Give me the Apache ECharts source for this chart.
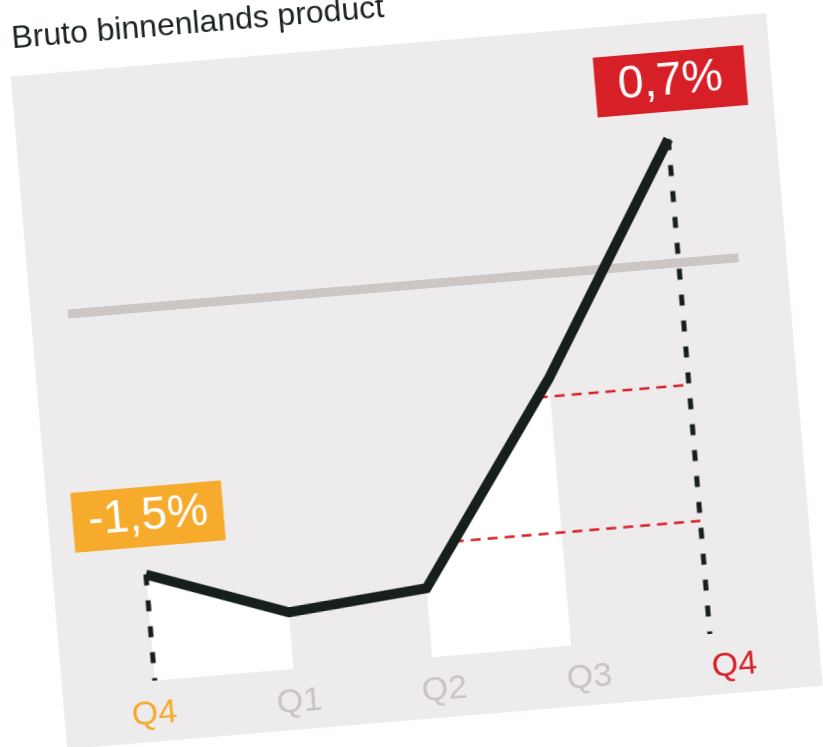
<!DOCTYPE html>
<html>
<head>
<meta charset="utf-8">
<script src="https://cdn.jsdelivr.net/npm/echarts@6/dist/echarts.min.js"></script>
<style>
  html, body { margin: 0; padding: 0; width: 823px; height: 747px; overflow: hidden; background: #fff; }
  #chart {
    position: absolute; left: -50px; top: -50px; width: 923px; height: 847px;
    transform: rotate(-4.8deg); transform-origin: 461.5px 423.5px;
  }
</style>
</head>
<body>
<div id="chart"></div>
<script>
// data
const quarters = ['Q4', 'Q1', 'Q2', 'Q3', 'Q4'];
const quarterColors = ['#f5aa2c', '#c9c4c2', '#c9c4c2', '#c9c4c2', '#d71f27'];
const bbp = [-1.5, -1.78, -1.71, -0.59, 0.7];
const whiteSegments = [[0, 1], [2, 3]];
const redLevels = [-1.46, -0.69];
const dropIdx = [0, 4];
const tagIdx = [0, 4];
const tagColors = ['#f6ab2d', '#d71f27'];

const yMin = -2.1, yMax = 0.9;
const font = 'Liberation Sans, Arial, sans-serif';
const dark = '#161f19';

// x where the line first reaches a level (between two points)
function crossX(level) {
  for (let i = 0; i < bbp.length - 1; i++) {
    const a = bbp[i], b = bbp[i + 1];
    if ((a - level) * (b - level) <= 0 && a !== b) {
      return i + (level - a) / (b - a);
    }
  }
  return 0;
}

const fmt = v => v.toFixed(1).replace('.', ',') + '%';

const chart = echarts.init(document.getElementById('chart'));

const series = [];

whiteSegments.forEach(s => {
  series.push({
    type: 'line', xAxisIndex: 0, yAxisIndex: 0, silent: true, z: 2,
    symbol: 'none',
    data: [[s[0], bbp[s[0]]], [s[1], bbp[s[1]]]],
    lineStyle: { width: 0 },
    areaStyle: { color: '#ffffff', opacity: 1, origin: 'start' }
  });
});

redLevels.forEach(l => {
  series.push({
    type: 'line', xAxisIndex: 0, yAxisIndex: 0, silent: true, z: 3,
    symbol: 'none',
    data: [[crossX(l), l], [bbp.length - 1, l]],
    lineStyle: { color: '#d71f27', width: 2.5, type: [10, 7] }
  });
});

dropIdx.forEach(i => {
  series.push({
    type: 'line', xAxisIndex: 0, yAxisIndex: 0, silent: true, z: 4,
    symbol: 'none',
    data: [[i, bbp[i]], [i, yMin]],
    lineStyle: { color: dark, width: 5, type: [11, 15] }
  });
});

series.push({
  type: 'line', xAxisIndex: 0, yAxisIndex: 0, silent: true, z: 5,
  symbol: 'none',
  data: bbp.map((v, i) => [i, v]),
  lineStyle: { color: dark, width: 10, join: 'miter', cap: 'butt' }
});

series.push({
  type: 'scatter', xAxisIndex: 0, yAxisIndex: 0, silent: true, z: 6,
  symbolSize: 1,
  itemStyle: { color: 'transparent', opacity: 1 },
  data: tagIdx.map((i, k) => ({
    value: [i, bbp[i]],
    label: { backgroundColor: tagColors[k] }
  })),
  label: {
    show: true,
    position: 'top',
    distance: 27,
    offset: [7, 0],
    formatter: p => fmt(p.value[1]),
    color: '#ffffff',
    fontFamily: font,
    fontSize: 46,
    lineHeight: 46,
    padding: [7, 15, 7, 15],
    width: 121,
    align: 'center'
  }
});

// dummy series so the zero-line grid has data
series.push({
  type: 'line', xAxisIndex: 2, yAxisIndex: 2, silent: true, symbol: 'none',
  data: [], lineStyle: { width: 0 }
});

const options = {
  animation: false,
  title: {
    text: 'Bruto binnenlands product',
    left: 86,
    top: 36,
    textStyle: { fontFamily: font, fontSize: 32, fontWeight: 'normal', color: '#1b231e' }
  },
  graphic: [{
    type: 'rect', z: -10, silent: true,
    shape: { x: 87, y: 94, width: 758, height: 675 },
    style: { fill: '#edebec' }
  }],
  grid: [
    { left: 180, top: 176, width: 557, height: 532 },
    { left: 177, top: 700, width: 582, height: 10 },
    { left: 124, top: 176, width: 673, height: 532 }
  ],
  xAxis: [
    { type: 'value', gridIndex: 0, min: 0, max: 4, show: false },
    {
      type: 'category', gridIndex: 1, data: quarters, boundaryGap: false,
      axisLine: { show: false }, axisTick: { show: false }, splitLine: { show: false },
      axisLabel: {
        interval: 0,
        margin: 15,
        fontFamily: font,
        fontSize: 34,
        color: (v, i) => quarterColors[i]
      }
    },
    {
      type: 'value', gridIndex: 2, min: 0, max: 1,
      axisLine: { show: true, onZero: true, lineStyle: { color: '#ccc7c5', width: 9, cap: 'butt' } },
      axisTick: { show: false }, axisLabel: { show: false }, splitLine: { show: false }
    }
  ],
  yAxis: [
    { type: 'value', gridIndex: 0, min: yMin, max: yMax, show: false },
    { type: 'value', gridIndex: 1, show: false },
    { type: 'value', gridIndex: 2, min: yMin, max: yMax, show: false }
  ],
  series: series
};

chart.setOption(options);
</script>
</body>
</html>
